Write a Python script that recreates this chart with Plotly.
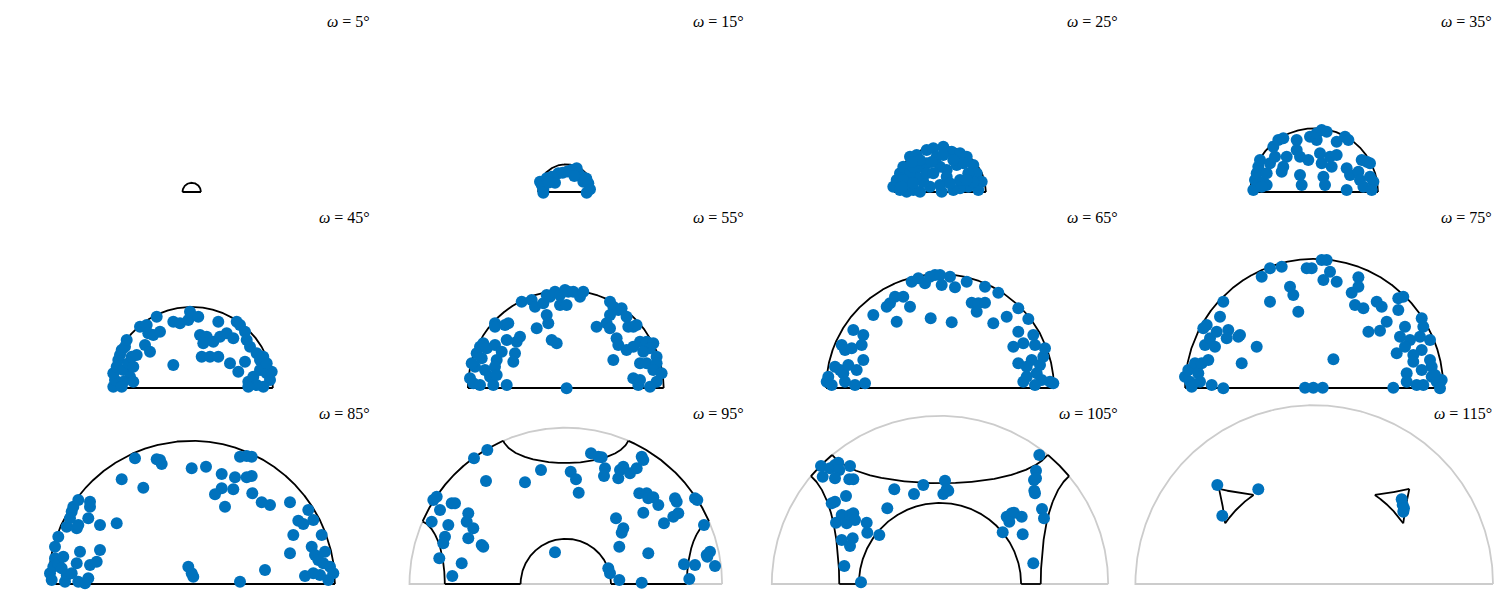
import numpy as np
import plotly.graph_objects as go

# rotation angles of the 12 sections
OMEGAS = [5, 15, 25, 35, 45, 55, 65, 75, 85, 95, 105, 115]
FULL_R = 212.0  # display radius of the unit sphere (axis units)

# misorientation axes, projected (equal area), axis units, per section
P5 = []
P15 = [(-24.1, 7), (-22.5, 2), (-25.8, 10.3), (-19.1, 13.7), (-14.1, 15.3), (-10.8, 9.3), (-7.5, 18.7),
       (-3.1, 19.3), (5.9, 22), (10.9, 23.7), (12.5, 18.7), (15.9, 15.3), (17.5, 10.3), (22.5, 8.7),
       (24.2, 2.7), (20.9, -0.7), (-22.5, -0.7), (1.5, 20.5), (8.5, 16), (20.5, 13.5), (-17, 9.5)]
P25 = [(-46.7, 5.3), (-40, 2), (-33.3, 0.3), (-26.7, 2), (-20, 0.3), (-43.3, 12), (-40, 18.7), (-36.7, 25.3),
       (-30, 35.3), (-23.3, 37), (-13.3, 42), (-6.7, 43.7), (3.3, 45.3), (11.7, 40.3), (20, 38.7), (26.7, 35.3),
       (33.3, 27), (36.7, 18.7), (41.7, 10.3), (38.3, 2), (28.3, 5.3), (20, 3.7), (13.3, 2), (1.7, 0.3), (0, 7),
       (-10, 5.3), (-16.7, 10.3), (-23.3, 15.3), (-30, 18.7), (-20, 25.3), (-13.3, 28.7), (0, 25.3), (6.7, 22),
       (16.7, 27), (23.3, 28.7), (28.3, 18.7), (20, 12), (-13.3, 18.7), (-33.3, 8.7), (-3.3, 35.3), (3.3, 37),
       (-6.7, 18.7), (-26.7, 25.3), (6.7, 15.3), (-36.7, 12), (-26.7, 8.7), (-8.3, 30), (13.3, 32), (33.3, 10),
       (-20, 32), (26.7, 12), (10, 8.7), (-28, 30), (-38.3, 5.3)]
P35 = [(-60.9, 2), (-59.2, 12), (-57.5, 18.7), (-55.9, 25.3), (-54.2, 32), (-50.9, 10.3), (-47.5, 18.7),
       (-44.2, 28.7), (-39.2, 35.3), (-40.9, 45.3), (-35.9, 52), (-30.9, 53.7), (-27.5, 35.3), (-30.9, 25.3),
       (-32.5, 20.3), (-17.5, 52), (-17.5, 42), (-14.2, 35.3), (-5.9, 32), (-14.2, 17), (-12.5, 7), (-4.2, 55.3),
       (2.5, 52), (2.5, 58.7), (7.5, 62), (12.5, 60.3), (5.8, 38.7), (7.5, 28.7), (15.8, 35.3), (22.5, 37),
       (9.2, 15.3), (10.8, 7), (22.5, 50.3), (30.8, 55.3), (34.2, 52), (32.5, 23.7), (35.8, 17), (32.5, 2),
       (44.2, 20.3), (47.5, 32), (52.5, 30.3), (55.8, 28.7), (45.8, 12), (49.2, 5.3), (55.8, 15.3), (59.2, 10.3),
       (57.5, 2), (-47.5, 7), (-52.5, 5.3), (17.5, 25.3)]
P45 = [(-78.4, 1.3), (-76.7, 8), (-78.4, 14.7), (-75, 21.3), (-73.4, 28), (-71.7, 33), (-70, 38), (-66.7, 41.3),
       (-65, 48), (-68.4, 18), (-63.4, 24.7), (-60, 31.3), (-58.4, 21.3), (-61.7, 11.3), (-68.4, 6.3), (-70, 1.3),
       (-58.4, 6.3), (-55, 33), (-51.7, 61.3), (-45, 63), (-43.4, 54.7), (-38.4, 53), (-31.7, 56.3), (-35, 71.3),
       (-46.7, 43), (-41.7, 36.3), (-18.4, 66.3), (-11.7, 64.7), (-3.4, 68), (-1.7, 76.3), (6.6, 71.3),
       (-18.4, 23), (8.3, 53), (15, 51.3), (11.6, 44.7), (10, 31.3), (18.3, 31.3), (26.6, 31.3), (26.6, 66.3),
       (21.6, 46.3), (28.3, 51.3), (35, 54.7), (41.6, 49.7), (45, 66.3), (48.3, 63), (53.3, 56.3), (55, 48),
       (58.3, 41.3), (65, 34.7), (68.3, 28), (38.3, 24.7), (46.6, 16.3), (53.3, 26.3), (56.6, 6.3), (61.6, 11.3),
       (68.3, 18), (75, 14.7), (78.3, 8), (71.6, 1.3), (65, 3), (56.6, 1.3), (71.6, 31.3), (80, 16.3), (75, 24.7)]
P55 = [(-95.8, 9.7), (-92.5, 4.7), (-90.8, 21.3), (-94.1, 24.7), (-89.1, 34.7), (-85.8, 41.3), (-82.5, 44.7),
       (-79.1, 39.7), (-84.1, 29.7), (-80.8, 18), (-75.8, 11.3), (-72.5, 3), (-85.8, 3), (-70.8, 43), (-69.1, 28),
       (-70.8, 21.3), (-64.1, 36.3), (-69.1, 13), (-59.1, 3), (-59.1, 48), (-70.8, 64.7), (-70.8, 61.3),
       (-60.8, 63), (-57.5, 64.7), (-50.8, 34.7), (-49.1, 46.3), (-45.8, 51.3), (-52.5, 26.3), (-44.1, 86.3),
       (-34.1, 88), (-30.8, 81.3), (-22.5, 84.7), (-19.1, 93), (-15.8, 91.3), (-10.8, 96.3), (-5.8, 93),
       (-0.8, 98), (2.5, 96.3), (7.5, 96.3), (14.2, 91.3), (17.5, 96.3), (-5.8, 83), (0.8, 83), (-19.1, 73),
       (-17.5, 64.7), (-29.1, 59.7), (-14.1, 48), (-9.1, 44.7), (0.8, -0.3), (30.8, 61.3), (44.2, 86.3),
       (47.5, 81.3), (52.5, 78), (55.8, 79.7), (60.8, 71.3), (44.2, 73), (40.8, 64.7), (44.2, 59.7), (62.5, 61.3),
       (67.5, 61.3), (70.8, 63), (50.8, 49.7), (52.5, 43), (60.8, 38), (67.5, 41.3), (74.2, 46.3), (80.8, 46.3),
       (87.5, 44.7), (84.2, 39.7), (77.5, 36.3), (90.8, 31.3), (74.2, 24.7), (80.8, 24.7), (90.8, 24.7),
       (87.5, 18), (95.8, 14.7), (90.8, 6.3), (84.2, 1.3), (72.5, 3), (67.5, 9.7), (47.5, 28), (74.2, 8)]
P65 = [(-113.3, 6.3), (-111.7, 11.3), (-108.3, 3), (-105, 21.3), (-100, 18), (-96.7, 14.7), (-95, 6.3),
       (-91.7, 23), (-98.3, 43), (-95, 38), (-88.3, 39.7), (-86.7, 58), (-76.7, 53), (-78.3, 43), (-76.7, 28),
       (-83.3, 18), (-85, 3), (-75, 4.7), (-66.7, 73), (-53.3, 81.3), (-50, 84.7), (-45, 91.3), (-36.7, 91.3),
       (-43.3, 66.3), (-30, 81.3), (-28.3, 106.3), (-21.7, 109.7), (-15, 104.7), (-10, 111.3), (-5, 113),
       (0, 113), (1.7, 103), (10, 111.3), (15, 100.7), (26.7, 106.3), (45, 101.3), (58.3, 95.3), (31.7, 85.3),
       (38.3, 84.7), (45, 85.3), (36.7, 76.3), (-9.3, 69.7), (11.7, 65.7), (53.3, 64.7), (66.7, 71.3),
       (78.3, 79.7), (88.3, 69), (78.3, 56.3), (83.3, 44.7), (73.3, 41.3), (93.3, 53), (95, 43), (103.3, 31.3),
       (91.7, 28), (78.3, 24.7), (86.7, 21.3), (100, 23), (96.7, 14.7), (101.7, 8), (110, 6.3), (113.3, 4.7),
       (95, 3), (83.3, 6.3), (86.7, 11.3), (105, 39.7)]
P75 = [(-129.2, 11.3), (-125.9, 18), (-124.2, 6.3), (-122.5, 1.3), (-119.2, 24.7), (-115.9, 14.7),
       (-112.5, 24.7), (-114.2, 6.3), (-105.9, 28), (-102.5, 3), (-90.9, -0.3), (-109.2, 43), (-104.2, 49.7),
       (-99.2, 41.3), (-97.5, 56.3), (-110.9, 59.7), (-107.5, 63), (-85.9, 58), (-87.5, 49.7), (-75.9, 51.3),
       (-74.2, 53), (-72.5, 24.7), (-57.5, 41.3), (-94.2, 71.3), (-90.9, 86.3), (-52.5, 111.3), (-44.2, 119.7),
       (-32.5, 121.3), (-44.2, 86.3), (-24.2, 101.3), (-20.9, 93), (-15.9, 76.3), (-7.5, 119.7), (-2.5, 119.7),
       (7.5, 128), (12.5, 128), (15.8, 116.3), (9.2, 108), (22.5, 106.3), (44.2, 110.7), (44.2, 101.3),
       (37.5, 95.3), (40.8, 83), (49.2, 79.7), (62.5, 86.3), (67.5, 81.3), (72.5, 66.3), (54.2, 56.3),
       (65.8, 57.3), (19.2, 28.7), (-9.2, 0.3), (-0.9, 0.3), (8.5, 0.3), (79.1, 0.3), (84.1, 89.7), (89.1, 91.3),
       (84.1, 78), (90.8, 61.3), (107.5, 69.7), (109.1, 61.3), (105.8, 51.3), (85.8, 51.3), (95.8, 48),
       (115.8, 48), (107.5, 38), (82.5, 34.7), (90.8, 41.3), (99.1, 33), (99.1, 26.3), (115.8, 28), (117.5, 21.3),
       (107.5, 18), (92.5, 14.7), (92.5, 6.3), (102.5, 3), (109.1, 3), (117.5, 11.3), (122.5, 6.3), (127.5, 8),
       (125.8, -0.3), (120.8, 13)]
P85 = [(-141.7, 10.7), (-140, 4), (-138.4, 17.3), (-136.7, 25.7), (-133.4, 20.7), (-130, 15.7), (-126.7, 2.3),
       (-128.4, 27.3), (-136.7, 37.3), (-133.4, 47.3), (-125, 9), (-120, 10.7), (-115, 20.7), (-111.7, 32.3),
       (-113.4, 2.3), (-106.7, 0.7), (-103.4, 5.7), (-101.7, 19), (-95, 22.3), (-91.7, 34), (-125, 57.3),
       (-121.7, 65.7), (-120, 72.3), (-118.4, 77.3), (-113.4, 84), (-115, 55.7), (-113.4, 59), (-103.4, 65.7),
       (-101.7, 77.3), (-101.7, 82.3), (-91.7, 59), (-75, 60.7), (-70, 104.7), (-56.7, 125.7), (-48.4, 96.3),
       (-35, 124.7), (-31.7, 124), (-30, 120), (0, 115.7), (14.3, 117.3), (30, 110), (30, 95.7), (23.3, 89.7),
       (41.6, 94.7), (43.3, 106.7), (33.3, 77.3), (55, 106.7), (60, 108), (60.6, 90.7), (48.3, 127.3),
       (55, 128), (60, 127.3), (70, 81.7), (78.3, 79), (98.3, 81.7), (116.6, 74), (106.6, 63.3), (111.6, 60),
       (121.6, 64), (101.6, 49), (98.3, 30.7), (130, 49), (120, 37.3), (123.3, 29), (126.6, 24), (131.6, 20.7),
       (138.3, 17.3), (141.6, 10.7), (136.6, 4), (128.3, 9), (121.6, 10.7), (113.3, 8), (73.3, 14), (-3.4, 17.3),
       (0, 10.7), (1.6, 7.3), (48.3, 2.3), (133.3, 32.3)]
P95 = [(-91.8, 125.7), (-78.5, 134), (-79.8, 103), (-132.5, 84), (-129.1, 87.3), (-134.1, 62.3), (-125.8, 74),
       (-114.1, 80.7), (-110.8, 80.7), (-117.5, 59), (-97.5, 70.7), (-99.1, 62.3), (-92.5, 55.7), (-120.8, 47.3),
       (-122.5, 40.7), (-97.5, 45.7), (-84.1, 39), (-82.5, 37.3), (-126.5, 25.7), (-104.1, 20.7), (-113.5, 8),
       (-40.8, 101.7), (-24.8, 114), (-10.8, 31.7), (4.9, 112.3), (10.2, 104.7), (12.9, 91.3), (25.2, 130.7),
       (32.5, 127.3), (35.9, 126.7), (39.2, 115.7), (38.2, 108), (52.5, 105.7), (54.2, 114), (57.5, 117.3),
       (64.2, 110.7), (70.9, 115.7), (75.9, 127.3), (77.5, 124), (73.5, 90.7), (80.9, 90.7), (82.5, 85.7),
       (87.5, 86.7), (92.5, 79), (77.5, 71.3), (50.2, 65.7), (57.5, 55.7), (55.9, 51.3), (53.5, 37.3),
       (82.5, 30.7), (98.2, 60.7), (107.5, 67.3), (112.5, 70.7), (109.2, 85.7), (110.9, 82.3), (129.2, 85.7),
       (131.5, 84), (138.2, 59), (42.5, 15.7), (44.2, 10.7), (53.5, 4), (75.9, 1.3), (118.2, 19.7), (129.2, 19),
       (123.5, 5), (140.9, 29), (144.2, 32.3), (149.2, 18), (141.5, 27.3)]
P105 = [(-119, 118), (-117.3, 107.3), (-110, 115.7), (-105, 119), (-101.7, 121.3), (-100.7, 114), (-105, 105.7),
        (-90, 118), (-90.7, 104.7), (-86.7, 104.7), (-94, 88), (-108.3, 80.7), (-105, 82.3), (-104, 61.3),
        (-98.3, 69), (-93.3, 60.7), (-90, 69), (-86.7, 70.7), (-85, 64), (-73.3, 61.3), (-72.7, 51.3),
        (-60.7, 49), (-52.7, 75.7), (-45.7, 94.7), (-26, 90), (-16.7, 99), (5, 103.3), (6.7, 94.7), (3.3, 90),
        (8.3, 93.3), (-98.3, 44), (-87.3, 45.7), (-90, 38), (-95.7, 18), (-79, 1.7), (99.3, 129), (96, 113.3),
        (94, 104), (96, 105.7), (94.3, 93.3), (95, 90.7), (102, 75), (104, 65.7), (66.7, 67.3), (71.7, 70.7),
        (74, 71.3), (69.3, 62.3), (81.7, 67.3), (62.7, 51.7), (82.7, 49.7), (93.3, 20.7)]
P115 = [(-96.9, 99), (-55.9, 94.7), (-91.9, 68.3), (87.5, 84.7), (88.5, 79), (89.1, 72.3), (89.8, 75.7)]
POINTS = [P5, P15, P25, P35, P45, P55, P65, P75, P85, P95, P105, P115]

W, H = 1506, 598
COL_CENTER = [191.7, 565.8, 940.0, 1314.2]
ROW_BASE = [192, 388, 584]
BLUE = "#0072BD"


def proj(nx, ny, nz, R):
    d = np.sqrt(1.0 + nz)
    return R * nx / d, R * ny / d


def boundary(omega):
    """black outline of the 222 fundamental-zone section (equal-area, upper half)"""
    c = 1.0 / np.tan(np.radians(omega) / 2)
    R = FULL_R * np.sin(np.radians(omega) / 2)
    N = 2000
    t = np.linspace(0, np.pi, N)
    u = np.linspace(0, np.pi / 2, N)
    s = np.linspace(-1, 1, N)
    curves = [(np.cos(t), np.sin(t), np.zeros(N)),
              (s, np.zeros(N), np.sqrt(np.clip(1 - s ** 2, 0, 1)))]
    if c < 1:
        a = np.sqrt(1 - c * c)
        curves += [(a * np.cos(t), a * np.sin(t), np.full(N, c)),
                   (np.full(N, c), a * np.cos(u), a * np.sin(u)),
                   (np.full(N, -c), a * np.cos(u), a * np.sin(u)),
                   (a * np.cos(t), np.full(N, c), a * np.sin(t))]
    xs, ys = [], []
    eps = 1e-9
    for nx, ny, nz in curves:
        ok = (np.abs(nx) <= c + eps) & (np.abs(ny) <= c + eps) & (nz <= c + eps)
        X, Y = proj(nx, ny, nz, R)
        for xi, yi, k in zip(X, Y, ok):
            if k:
                xs.append(float(xi)); ys.append(float(yi))
            else:
                if xs and xs[-1] is not None:
                    xs.append(None); ys.append(None)
        xs.append(None); ys.append(None)
    return xs, ys, c < 1, R


fig = go.Figure()
annotations = []
for i, om in enumerate(OMEGAS):
    r, col = divmod(i, 4)
    cx, by = COL_CENTER[col], ROW_BASE[r]
    k = "" if i == 0 else str(i + 1)
    xa, ya = "x" + k, "y" + k
    fig.update_layout({
        "xaxis" + k: dict(domain=[(cx - 182) / W, (cx + 182) / W], range=[-182, 182], visible=False,
                          fixedrange=True, anchor=ya),
        "yaxis" + k: dict(domain=[(H - by - 8) / H, (H - by + 180) / H], range=[-8, 180], visible=False,
                          fixedrange=True, anchor=xa),
    })
    bx, byy, partial, R = boundary(om)
    if partial:
        t = np.linspace(0, np.pi, 400)
        gx = list(R * np.cos(t)) + [R]
        gy = list(R * np.sin(t)) + [0]
        fig.add_trace(go.Scatter(x=gx, y=gy, mode="lines", line=dict(color="#cccccc", width=1.8),
                                 xaxis=xa, yaxis=ya, hoverinfo="skip", showlegend=False))
    fig.add_trace(go.Scatter(x=bx, y=byy, mode="lines", line=dict(color="black", width=1.8),
                             connectgaps=False, xaxis=xa, yaxis=ya, hoverinfo="skip", showlegend=False))
    pts = POINTS[i]
    if pts:
        fig.add_trace(go.Scatter(x=[p[0] for p in pts], y=[p[1] for p in pts], mode="markers",
                                 marker=dict(color=BLUE, size=12, line=dict(width=0)), cliponaxis=False,
                                 xaxis=xa, yaxis=ya, hoverinfo="skip", showlegend=False))
    annotations.append(dict(text=f"<i>ω</i> = {om}°", x=(cx + 180) / W, y=(H - (by - 170.5)) / H,
                            xref="paper", yref="paper", xanchor="right", yanchor="middle",
                            showarrow=False, font=dict(family="Liberation Serif", size=16, color="black")))

fig.update_layout(width=W, height=H, margin=dict(l=0, r=0, t=0, b=0), autosize=False,
                  paper_bgcolor="white", plot_bgcolor="white", annotations=annotations,
                  hovermode=False, showlegend=False)
fig.write_html("out.html", config={"displayModeBar": False},
               post_script="document.body.style.margin='0px';")
